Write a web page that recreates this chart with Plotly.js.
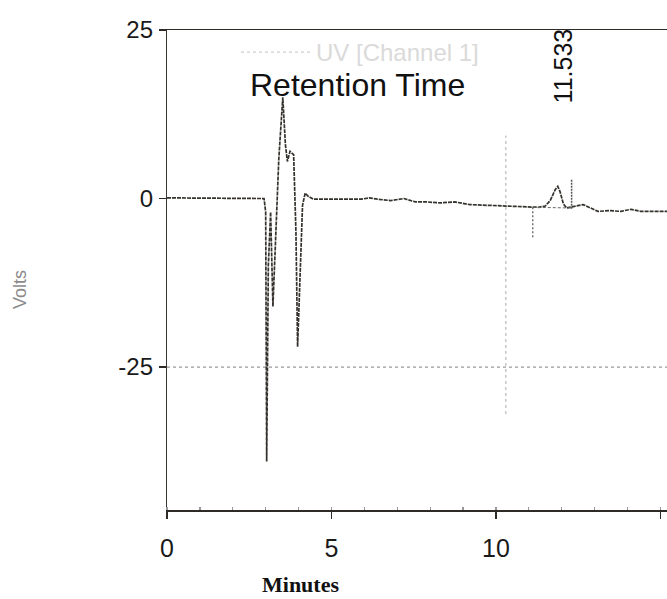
<!DOCTYPE html>
<html>
<head>
<meta charset="utf-8">
<script src="https://cdn.plot.ly/plotly-3.0.1.min.js"></script>
<style>html,body{margin:0;padding:0;background:#fff;}#chart{width:667px;height:599px;}</style>
</head>
<body>
<div id="chart"></div>
<script>
// Chromatogram trace (minutes, volts)
const time = [0, 1.0, 2.0, 2.95, 3.00, 3.03, 3.08, 3.15, 3.22, 3.30, 3.40, 3.52, 3.60, 3.66, 3.74, 3.85, 3.92, 3.97, 4.05, 4.12, 4.20, 4.30, 4.45,
  4.8, 5.2, 5.6, 5.9, 6.15, 6.4, 6.8, 7.0, 7.2, 7.55, 7.9, 8.3, 8.75, 9.2, 9.8, 10.4, 11.0, 11.3, 11.5, 11.65, 11.8, 11.88, 11.95, 12.05, 12.15,
  12.3, 12.45, 12.65, 12.85, 13.1, 13.45, 13.8, 14.1, 14.4, 14.8, 15.2];
const volts = [0.1, 0.1, 0.0, 0.0, -2, -39, -10, -2, -16, -6, 6, 15, 8, 5.5, 7, 6.5, -5, -22, -10, -1, 0.8, 0.3, -0.1,
  -0.1, -0.1, -0.2, -0.1, 0.1, -0.1, -0.3, -0.1, 0.0, -0.5, -0.5, -0.65, -0.5, -0.9, -1.0, -1.2, -1.3, -1.3, -1.1, -0.3, 1.3, 1.8, 1.0, -0.8, -1.4,
  -1.3, -1.1, -0.9, -1.3, -1.9, -1.8, -1.9, -1.6, -1.9, -1.9, -1.9];

// Integration event markers and peak baseline
const mark1T = [11.12, 11.12];
const mark1V = [-1.3, -6];
const mark2T = [12.3, 12.3];
const mark2V = [2.8, -1.6];
const peakBaseT = [11.12, 12.3];
const peakBaseV = [-1.3, -1.4];

// Axis ticks and texts
const xTicks = [0, 5, 10, 15];
const yTicks = [25, 0, -25];
const legendName = 'UV [Channel 1]';
const peakLabel = '11.533';
const peakLabelT = 12.05;

const traceColor = '#35322d';

const data = [
  {x: time, y: volts, type: 'scatter', mode: 'lines', line: {color: traceColor, width: 1.7, dash: '4px,1px'}, showlegend: false},
  {x: mark1T, y: mark1V, type: 'scatter', mode: 'lines', line: {color: '#555', width: 1.2, dash: '2px,2px'}, showlegend: false},
  {x: mark2T, y: mark2V, type: 'scatter', mode: 'lines', line: {color: '#555', width: 1.5, dash: '2px,1px'}, showlegend: false},
  {x: peakBaseT, y: peakBaseV, type: 'scatter', mode: 'lines', line: {color: '#666', width: 1.0, dash: '3px,2px'}, showlegend: false},
  {x: [null], y: [null], type: 'scatter', mode: 'lines', name: legendName, line: {color: '#cfcfcf', width: 1.3, dash: 'dot'}, showlegend: true}
];

const layout = {
  width: 667, height: 599,
  margin: {l: 167, r: 0, t: 30, b: 89},
  paper_bgcolor: '#ffffff', plot_bgcolor: '#ffffff',
  showlegend: true,
  legend: {x: (236 - 167) / 500, y: 1.0, xanchor: 'left', yanchor: 'top', bgcolor: 'rgba(0,0,0,0)',
    font: {family: 'Liberation Sans, Arial, sans-serif', size: 24, color: '#dadada'}, itemwidth: 70},
  xaxis: {
    range: [0, 15.2], tickvals: xTicks, ticktext: xTicks.map(String),
    showgrid: false, zeroline: false,
    showline: true, mirror: true, linecolor: '#2e2b27', linewidth: 1.5,
    ticks: 'outside', ticklen: 7, tickcolor: '#2e2b27', tickwidth: 1.3,
    ticklabelstandoff: 8,
    minor: {dtick: 1, ticks: 'inside', ticklen: 3, tickcolor: '#999'},
    tickfont: {family: 'Liberation Sans, Arial, sans-serif', size: 25, color: '#1a1a1a'}
  },
  yaxis: {
    range: [-46.2, 25], tickvals: yTicks, ticktext: yTicks.map(String),
    showgrid: false, zeroline: false,
    showline: true, linecolor: '#3a3733', linewidth: 1.2,
    ticks: 'outside', ticklen: 7, tickcolor: '#2e2b27', tickwidth: 1.3,
    ticklabelstandoff: 1,
    tickfont: {family: 'Liberation Sans, Arial, sans-serif', size: 24, color: '#1a1a1a'}
  },
  shapes: [
    {type: 'line', xref: 'paper', x0: 0, x1: 1, yref: 'y', y0: -25, y1: -25, line: {color: '#9a9a9a', width: 1.2, dash: 'dot'}, layer: 'below'},
    {type: 'line', xref: 'x', x0: 10.3, x1: 10.3, yref: 'paper', y0: 0.2, y1: 0.78, line: {color: '#bbb', width: 1.2, dash: 'dot'}, layer: 'below'}
  ],
  annotations: [
    {text: 'Retention Time', xref: 'paper', yref: 'paper', x: (357 - 167) / 500, y: 1 - (85 - 30) / 480,
      xanchor: 'center', yanchor: 'middle', showarrow: false,
      font: {family: 'Liberation Sans, Arial, sans-serif', size: 32, color: '#111'}},
    {text: peakLabel, xref: 'x', yref: 'paper', x: peakLabelT, y: 1 - (66 - 30) / 480, textangle: -90,
      xanchor: 'center', yanchor: 'middle', showarrow: false,
      font: {family: 'Liberation Sans, Arial, sans-serif', size: 25, color: '#111'}},
    {text: '<b>Minutes</b>', xref: 'paper', yref: 'paper', x: (300 - 167) / 500, y: -(584 - 510) / 480,
      xanchor: 'center', yanchor: 'middle', showarrow: false,
      font: {family: 'Liberation Serif, Times New Roman, serif', size: 22, color: '#111'}},
    {text: 'Volts', xref: 'paper', yref: 'paper', x: (20 - 167) / 500, y: 1 - (290 - 30) / 480, textangle: -90,
      xanchor: 'center', yanchor: 'middle', showarrow: false,
      font: {family: 'Liberation Sans, Arial, sans-serif', size: 18, color: '#8a8a8a'}}
  ]
};

Plotly.newPlot('chart', data, layout, {displayModeBar: false, staticPlot: true});
</script>
</body>
</html>
